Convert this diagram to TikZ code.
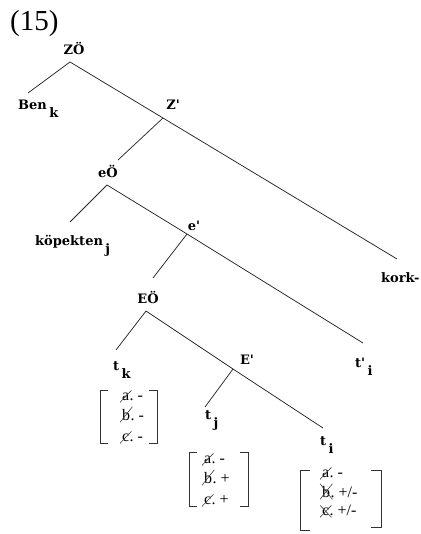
\documentclass[tikz,border=0pt]{standalone}
\usepackage{fontspec}
\usepackage{tikz}
\usetikzlibrary{positioning}
\usepackage{xcolor}

\newfontfamily\catfont{DejaVu Serif}
\newfontfamily\numfont{Liberation Serif}
\newcommand{\sub}[1]{\hspace{2.5pt}\raisebox{-8pt}{#1}}
\newcommand{\pr}{\textquotesingle}

\tikzset{
	cat/.style={font=\catfont\bfseries\fontsize{13}{15}\selectfont, inner sep=0pt, anchor=base},
	leaf/.style={cat, anchor=base west},
	feat/.style={font=\numfont\fontsize{16}{18}\selectfont, inner sep=0pt, anchor=base west},
	branch/.style={line width=0.75pt, black!85},
	brk/.style={line width=0.75pt, black!80},
	strike/.style={line width=0.6pt, black!75},
}

\begin{document}
\begin{tikzpicture}[x=1pt,y=-1pt]
	\useasboundingbox (0,0) rectangle (420,534);
	% Example number
	\node[font=\numfont\fontsize{29}{32}\selectfont, inner sep=0pt, anchor=base west] (num) at (10,31) {(15)};
	% Category labels
	\node[cat] (ZO) at (74,55) {ZÖ};
	\node[leaf] (Ben) at (18,110) {Ben\sub{k}};
	\node[cat] (Z) at (173,110) {Z\pr};
	\node[leaf] (kork) at (381,282) {kork-};
	\node[cat] (eO) at (108,178) {eÖ};
	\node[leaf] (kop) at (35,245) {köpekten\sub{j}};
	\node[cat] (e) at (194,230) {e\pr};
	\node[cat] (EO) at (148,303) {EÖ};
	\node[leaf] (tpi) at (355,367) {t\pr\sub{i}};
	\node[leaf] (tk) at (113,370) {t\sub{k}};
	\node[cat] (E) at (247,364) {E\pr};
	\node[leaf] (tj) at (205,419) {t\sub{j}};
	\node[leaf] (ti) at (320,445) {t\sub{i}};
	% Branch points
	\coordinate (ZOtop) at (70,62);
	\coordinate (Benend) at (28,93);
	\coordinate (Zjun) at (163,118);
	\coordinate (korkend) at (397,259);
	\coordinate (eOend) at (118,160);
	\coordinate (eOtop) at (107,185);
	\coordinate (kopend) at (70,222);
	\coordinate (ejun) at (187,234);
	\coordinate (tpiend) at (363,343);
	\coordinate (EOend) at (153,278);
	\coordinate (EOtop) at (146,311);
	\coordinate (tkend) at (116,350);
	\coordinate (Ejun) at (233,369);
	\coordinate (tiend) at (323,428);
	\coordinate (tjend) at (205,407);
	% Branches
	\draw[branch] (ZOtop) -- (Benend);
	\draw[branch] (ZOtop) -- (Zjun) -- (korkend);
	\draw[branch] (Zjun) -- (eOend);
	\draw[branch] (eOtop) -- (kopend);
	\draw[branch] (eOtop) -- (ejun) -- (tpiend);
	\draw[branch] (ejun) -- (EOend);
	\draw[branch] (EOtop) -- (tkend);
	\draw[branch] (EOtop) -- (Ejun) -- (tiend);
	\draw[branch] (Ejun) -- (tjend);
	% Feature matrix under t_k
	\draw[brk] (108,390) -- (100,390) -- (100,443) -- (108,443);
	\draw[brk] (149,390) -- (157,390) -- (157,443) -- (149,443);
	\foreach \lt/\val/\y [count=\n] in {a/-/400, b/-/420, c/-/441} {
		\node[feat] (fk\n) at (122,\y) {\lt};
		\node[feat] at (fk\n.base east) {.\ \val};
		\draw[strike] ([shift={(-2,2)}]fk\n.south west) -- ([shift={(2,-2)}]fk\n.north east);
	}
	% Feature matrix under t_j
	\draw[brk] (197,452) -- (189,452) -- (189,506) -- (197,506);
	\draw[brk] (240,452) -- (248,452) -- (248,506) -- (240,506);
	\foreach \lt/\val/\y [count=\n] in {a/-/463, b/+/483, c/+/504} {
		\node[feat] (fj\n) at (204,\y) {\lt};
		\node[feat] at (fj\n.base east) {.\ \val};
		\draw[strike] ([shift={(-2,2)}]fj\n.south west) -- ([shift={(2,-2)}]fj\n.north east);
	}
	% Feature matrix under t_i
	\draw[brk] (310,470) -- (300,470) -- (300,530) -- (310,530);
	\draw[brk] (371,470) -- (381,470) -- (381,527) -- (371,527);
	\foreach \lt/\y [count=\n] in {a/477, b/497, c/515} {
		\node[feat] (fi\n) at (322,\y) {\lt};
		\draw[strike] ([shift={(-2,2)}]fi\n.south west) -- ([shift={(2,-2)}]fi\n.north east);
	}
	\node[feat] at (fi1.base east) {.\ -};
	\node[feat] at (fi2.base east) {.\ +/-};
	\node[feat] at (fi3.base east) {.\ +/-};
	\draw[strike] ([shift={(-2,-2)}]fi2.north west) -- ([shift={(2,2)}]fi2.south east);
	\draw[strike] ([shift={(-2,-2)}]fi3.north west) -- ([shift={(2,2)}]fi3.south east);
\end{tikzpicture}
\end{document}
